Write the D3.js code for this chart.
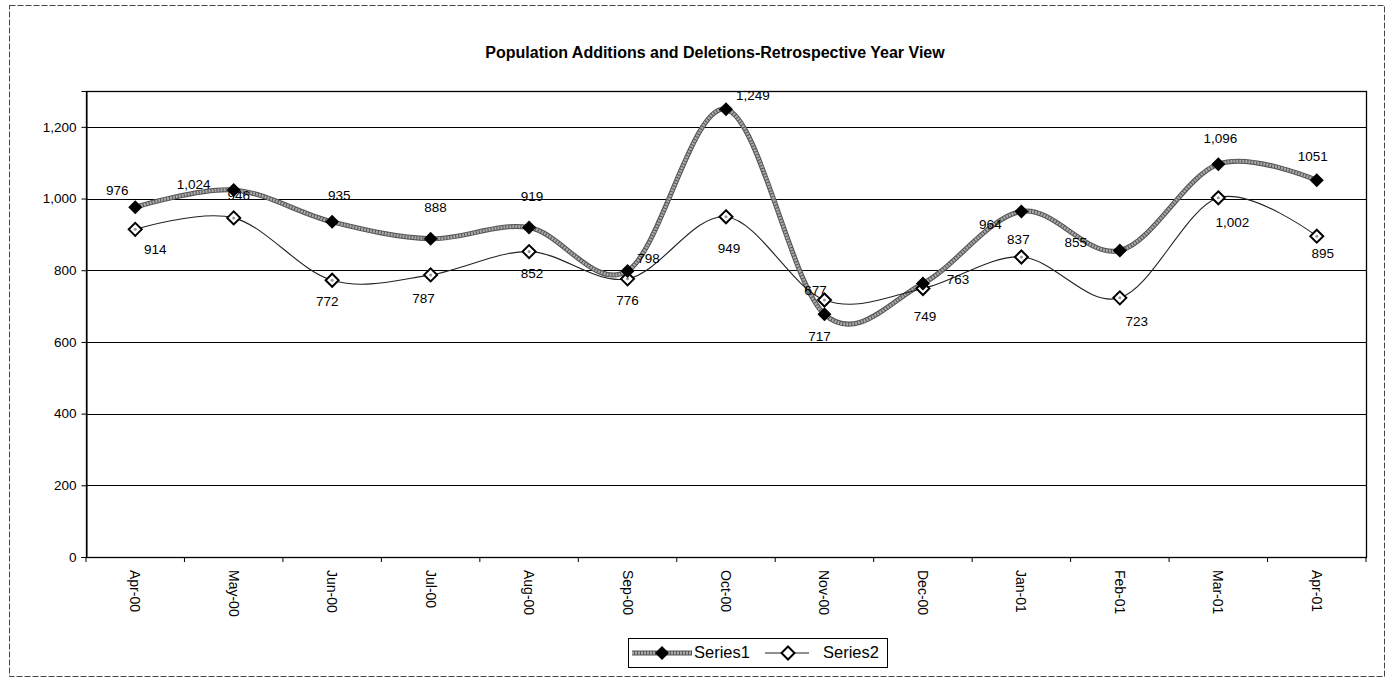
<!DOCTYPE html>
<html><head><meta charset="utf-8">
<script src="https://cdn.jsdelivr.net/npm/d3@7"></script>
<style>body{margin:0;background:#fff}svg{display:block;font-family:"Liberation Sans",Arial,sans-serif}</style>
</head><body><svg id="c" width="1391" height="677"></svg>
<script>
const categories = ["Apr-00","May-00","Jun-00","Jul-00","Aug-00","Sep-00","Oct-00","Nov-00","Dec-00","Jan-01","Feb-01","Mar-01","Apr-01"];
const series1 = [976,1024,935,888,919,798,1249,677,763,964,855,1096,1051];
const series2 = [914,946,772,787,852,776,949,717,749,837,723,1002,895];
const series1Labels = ["976","1,024","935","888","919","798","1,249","677","763","964","855","1,096","1051"];
const series2Labels = ["914","946","772","787","852","776","949","717","749","837","723","1,002","895"];
const yTicks = [0,200,400,600,800,1000,1200];
const title = "Population Additions and Deletions-Retrospective Year View";
// label placement offsets (layout only)
const off1 = [[-18,-16],[-40,-4],[7,-25],[5,-30],[3,-30],[21,-12],[27,-13],[-9,-23],[35,-3],[-31,14],[-44,-7],[2,-25],[-4,-23]];
const off2 = [[20,21],[5,-21],[-5,22],[-7,25],[3,23],[0,23],[3,33],[-5,37],[2,29],[-3,-17],[17,25],[14,26],[6,18]];

const svg = d3.select("#c");
const L=86,R=1366,T=91,B=557;
const x = d3.scaleBand().domain(categories).range([L,R]);
const y = d3.scaleLinear().domain([0,1300]).range([B,T]);
const cx = c => x(c)+x.bandwidth()/2;

// outer border
svg.append("rect").attr("x",9.5).attr("y",5.5).attr("width",1375).attr("height",671).attr("fill","none").attr("stroke","#444").attr("stroke-width",1).attr("stroke-dasharray","6,2");

svg.append("text").attr("x",715).attr("y",58).attr("text-anchor","middle").attr("font-weight","bold").attr("font-size",16).text(title);

// gridlines
svg.append("g").selectAll("line").data(yTicks.filter(d=>d>0)).join("line")
 .attr("x1",L).attr("x2",R).attr("y1",d=>Math.round(y(d))+0.5).attr("y2",d=>Math.round(y(d))+0.5).attr("stroke","#000").attr("stroke-width",1);
svg.append("rect").attr("x",L+0.5).attr("y",T+0.5).attr("width",R-L).attr("height",B-T).attr("fill","none").attr("stroke","#000").attr("stroke-width",1.3);

const yAxis = d3.axisLeft(y).tickValues(yTicks).tickFormat(d3.format(",")).tickSize(5).tickPadding(5);
const gy = svg.append("g").attr("transform",`translate(${L+0.5},0)`).call(yAxis);
gy.select(".domain").attr("stroke","#000");
gy.selectAll("text").attr("font-size",13.5).attr("fill","#000").style("font-family","Liberation Sans, Arial");

// x axis ticks at boundaries
const gx = svg.append("g");
gx.selectAll("line").data(d3.range(categories.length+1)).join("line")
 .attr("x1",i=>L+i*x.step()).attr("x2",i=>L+i*x.step()).attr("y1",B).attr("y2",B+5).attr("stroke","#000");
gx.selectAll("text").data(categories).join("text")
 .attr("transform",c=>`translate(${cx(c)-5},${B+13}) rotate(90)`)
 .attr("font-size",14).attr("text-anchor","start").text(c=>c);

const line = d3.line().x((d,i)=>cx(categories[i])).y(d=>y(d)).curve(d3.curveCardinal.tension(0));
// Series1 thick gray
svg.append("path").attr("d",line(series1)).attr("fill","none").attr("stroke","#555").attr("stroke-width",5);
svg.append("path").attr("d",line(series1)).attr("fill","none").attr("stroke","#aaa").attr("stroke-width",3).attr("stroke-dasharray","2,1");
// Series2 thin black
svg.append("path").attr("d",line(series2)).attr("fill","none").attr("stroke","#222").attr("stroke-width",1.1);

const diamond = s => `M0,${-s}L${s},0L0,${s}L${-s},0Z`;
svg.append("g").selectAll("path").data(series2).join("path")
 .attr("d",diamond(6.5)).attr("transform",(d,i)=>`translate(${cx(categories[i])},${y(d)})`)
 .attr("fill","#fff").attr("stroke","#000").attr("stroke-width",2);
svg.append("g").selectAll("circle").data(series2).join("circle")
 .attr("cx",(d,i)=>cx(categories[i])).attr("cy",d=>y(d)).attr("r",1.5).attr("fill","#999");
svg.append("g").selectAll("path").data(series1).join("path")
 .attr("d",diamond(7)).attr("transform",(d,i)=>`translate(${cx(categories[i])},${y(d)})`)
 .attr("fill","#000");

// data labels
svg.append("g").selectAll("text").data(series1).join("text")
 .attr("x",(d,i)=>cx(categories[i])+off1[i][0]).attr("y",(d,i)=>y(d)+off1[i][1])
 .attr("text-anchor","middle").attr("dominant-baseline","middle").attr("font-size",13.5).text((d,i)=>series1Labels[i]);
svg.append("g").selectAll("text").data(series2).join("text")
 .attr("x",(d,i)=>cx(categories[i])+off2[i][0]).attr("y",(d,i)=>y(d)+off2[i][1])
 .attr("text-anchor","middle").attr("dominant-baseline","middle").attr("font-size",13.5).text((d,i)=>series2Labels[i]);

// legend
const lg = svg.append("g").attr("transform","translate(628,638)");
lg.append("rect").attr("x",0.5).attr("y",0.5).attr("width",259).attr("height",29).attr("fill","#fff").attr("stroke","#000");
lg.append("line").attr("x1",4).attr("x2",64).attr("y1",15).attr("y2",15).attr("stroke","#555").attr("stroke-width",5);
lg.append("line").attr("x1",4).attr("x2",64).attr("y1",15).attr("y2",15).attr("stroke","#aaa").attr("stroke-width",3).attr("stroke-dasharray","2,1");
lg.append("path").attr("d",diamond(7)).attr("transform","translate(34,15)").attr("fill","#000");
lg.append("text").attr("x",66).attr("y",16).attr("dominant-baseline","middle").attr("font-size",16.5).text("Series1");
lg.append("line").attr("x1",137).attr("x2",181).attr("y1",15).attr("y2",15).attr("stroke","#222").attr("stroke-width",1.1);
lg.append("path").attr("d",diamond(6.5)).attr("transform","translate(160,15)").attr("fill","#fff").attr("stroke","#000").attr("stroke-width",2);
lg.append("text").attr("x",195).attr("y",16).attr("dominant-baseline","middle").attr("font-size",16.5).text("Series2");
</script></body></html>
